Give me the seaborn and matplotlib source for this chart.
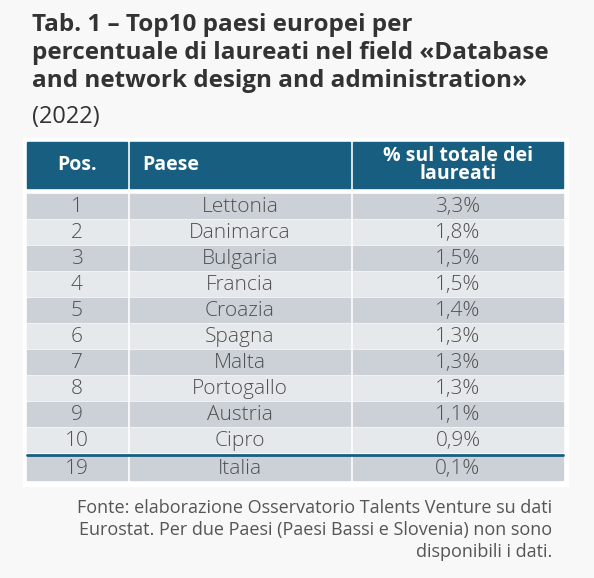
import matplotlib
matplotlib.use("Agg")
import matplotlib.pyplot as plt
from matplotlib.patches import Rectangle
import seaborn as sns

sns.set_theme(style="white")
plt.rcParams["font.family"] = ["Open Sans", "DejaVu Sans"]

# data
positions = ["1", "2", "3", "4", "5", "6", "7", "8", "9", "10", "19"]
countries = ["Lettonia", "Danimarca", "Bulgaria", "Francia", "Croazia", "Spagna",
             "Malta", "Portogallo", "Austria", "Cipro", "Italia"]
shares = ["3,3%", "1,8%", "1,5%", "1,5%", "1,4%", "1,3%", "1,3%", "1,3%", "1,1%", "0,9%", "0,1%"]
headers = ["Pos.", "Paese", "% sul totale dei\nlaureati"]

title_lines = ["Tab. 1 \u2013 Top10 paesi europei per",
               "percentuale di laureati nel field \u00abDatabase",
               "and network design and administration\u00bb"]
subtitle = "(2022)"
source = ["Fonte: elaborazione Osservatorio Talents Venture su dati",
          "Eurostat. Per due Paesi (Paesi Bassi e Slovenia) non sono",
          "disponibili i dati."]

HEAD = "#175e80"
ODD = "#ccd1d8"
EVEN = "#e6e9ec"
TXT = "#505050"

fig = plt.figure(figsize=(5.94, 5.78), dpi=100)
fig.patch.set_facecolor("#f8f8f8")
ax = fig.add_axes([0, 0, 1, 1])
ax.set_xlim(0, 594)
ax.set_ylim(578, 0)
ax.axis("off")

# panel
ax.add_patch(Rectangle((23, 138), 545, 348, color="white", zorder=0))

for i, line in enumerate(title_lines):
    ax.text(32, 25 + i * 28, line, fontsize=17.5, fontweight="bold", color="#333333",
            va="center", ha="left")
ax.text(32, 117, subtitle, fontsize=17, color="#333333", va="center", ha="left")

cols = [(27, 100), (130, 220), (353, 210)]
# header
for j, (x0, w) in enumerate(cols):
    ax.add_patch(Rectangle((x0, 142), w, 46, color=HEAD))
    if j == 1:
        ax.text(x0 + 12, 165, headers[j], color="white", fontsize=14, fontweight="bold",
                ha="left", va="center")
    else:
        ax.text(x0 + w / 2, 165, headers[j], color="white", fontsize=14, fontweight="bold",
                ha="center", va="center", linespacing=0.9)

row_h = 26
for i in range(len(positions)):
    y0 = 194 + i * row_h + (2 if i == 10 else 0)
    fc = ODD if i % 2 == 0 else EVEN
    vals = [positions[i], countries[i], shares[i]]
    for j, (x0, w) in enumerate(cols):
        ax.add_patch(Rectangle((x0, y0), w, row_h - 2, color=fc))
        ax.text(x0 + w / 2, y0 + (row_h - 2) / 2 + 1, vals[j], color=TXT, fontsize=15,
                fontweight="light", ha="center", va="center")

ax.plot([27, 563], [455, 455], color=HEAD, lw=2)

for i, line in enumerate(source):
    ax.text(552, 508 + i * 22, line, fontsize=13, color="#555555", ha="right", va="center")

fig.savefig("out.png", dpi=100, facecolor=fig.get_facecolor())
